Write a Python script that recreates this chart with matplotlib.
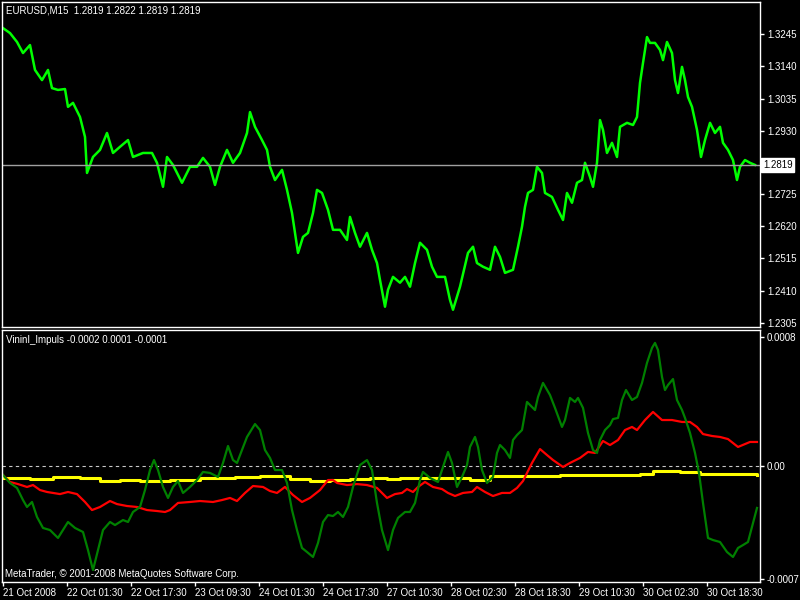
import matplotlib.pyplot as plt
import matplotlib.transforms as mtransforms

# EURUSD M15 close (bar index -> price)
price_bar = [0, 7, 14, 20, 27, 32, 39, 45, 49, 55,
             62, 65, 70, 77, 82, 84, 90, 97, 104, 110,
             117, 125, 130, 140, 149, 154, 160, 164, 170, 179,
             187, 194, 200, 207, 212, 217, 224, 230, 237, 244,
             247, 252, 259, 264, 267, 272, 279, 284, 289, 292,
             295, 300, 305, 310, 314, 319, 325, 330, 337, 344,
             347, 352, 357, 364, 369, 374, 377, 382, 385, 390,
             397, 402, 407, 412, 417, 424, 429, 434, 442, 447,
             450, 457, 465, 470, 474, 480, 487, 492, 497, 502,
             510, 515, 519, 522, 525, 530, 534, 539, 542, 549,
             555, 560, 564, 569, 574, 579, 582, 587, 590, 594,
             597, 600, 604, 609, 614, 617, 624, 630, 634, 637,
             640, 644, 647, 652, 657, 660, 664, 669, 672, 675,
             679, 682, 685, 689, 694, 698, 702, 707, 712, 717,
             720, 725, 730, 734, 737, 742, 747, 752]
price_close = [1.3264, 1.3248, 1.3219, 1.3183, 1.3209, 1.3128, 1.3095, 1.3128, 1.3069, 1.3063,
               1.3066, 1.3008, 1.3021, 1.2975, 1.2910, 1.2793, 1.2845, 1.2868, 1.2923, 1.2858,
               1.2878, 1.2900, 1.2845, 1.2858, 1.2858, 1.2826, 1.2748, 1.2845, 1.2819, 1.2761,
               1.2813, 1.2813, 1.2842, 1.2813, 1.2754, 1.2813, 1.2868, 1.2826, 1.2858, 1.2923,
               1.2991, 1.2943, 1.2900, 1.2868, 1.2813, 1.2770, 1.2803, 1.2738, 1.2663, 1.2598,
               1.2533, 1.2585, 1.2598, 1.2663, 1.2738, 1.2728, 1.2673, 1.2608, 1.2608, 1.2575,
               1.2650, 1.2598, 1.2553, 1.2598, 1.2543, 1.2500, 1.2445, 1.2358, 1.2413, 1.2455,
               1.2436, 1.2455, 1.2423, 1.2500, 1.2566, 1.2543, 1.2488, 1.2455, 1.2455, 1.2380,
               1.2348, 1.2423, 1.2533, 1.2553, 1.2500, 1.2488, 1.2478, 1.2553, 1.2520, 1.2468,
               1.2478, 1.2553, 1.2618, 1.2683, 1.2728, 1.2738, 1.2813, 1.2793, 1.2728, 1.2715,
               1.2673, 1.2640, 1.2728, 1.2696, 1.2761, 1.2770, 1.2826, 1.2780, 1.2748, 1.2826,
               1.2965, 1.2933, 1.2858, 1.2891, 1.2845, 1.2943, 1.2956, 1.2949, 1.2975, 1.3086,
               1.3151, 1.3235, 1.3216, 1.3216, 1.3193, 1.3160, 1.3219, 1.3183, 1.3095, 1.3053,
               1.3138, 1.3095, 1.3040, 1.3008, 1.2933, 1.2845, 1.2900, 1.2956, 1.2923, 1.2943,
               1.2891, 1.2868, 1.2835, 1.2770, 1.2813, 1.2835, 1.2826, 1.2819]
last_price = 1.2819
price_ticks = [1.2305, 1.2410, 1.2515, 1.2620, 1.2725, 1.2930, 1.3035, 1.3140, 1.3245]

# VininI_Impuls buffers
green_bar = [0, 7, 14, 20, 24, 29, 34, 40, 47, 55,
             60, 65, 72, 80, 85, 90, 95, 100, 107, 112,
             120, 125, 130, 137, 142, 147, 151, 155, 160, 165,
             170, 175, 180, 187, 194, 200, 207, 215, 220, 225,
             230, 234, 239, 244, 252, 257, 262, 267, 272, 279,
             284, 289, 294, 299, 304, 310, 315, 320, 325, 330,
             335, 340, 345, 350, 357, 364, 369, 374, 379, 385,
             390, 395, 402, 407, 412, 417, 420, 427, 435, 440,
             445, 449, 454, 459, 464, 467, 472, 475, 479, 484,
             490, 494, 497, 502, 507, 510, 514, 519, 524, 527,
             532, 535, 540, 547, 552, 559, 562, 567, 572, 575,
             580, 585, 590, 594, 597, 602, 607, 610, 615, 619,
             623, 629, 634, 639, 644, 649, 652, 655, 659, 662,
             665, 670, 674, 679, 682, 687, 692, 696, 700, 705,
             710, 717, 724, 730, 735, 740, 745, 750, 754]
green_val = [-0.000056, -0.000105, -0.000136, -0.000211, -0.000254, -0.000223, -0.000316, -0.000384, -0.000397, -0.000446,
             -0.000397, -0.000347, -0.000384, -0.000409, -0.000521, -0.000645, -0.000521, -0.000397, -0.000347, -0.000366,
             -0.000335, -0.000347, -0.000285, -0.000254, -0.000149, -0.000025, 0.000037, -0.000025, -0.000130, -0.000198,
             -0.000130, -0.000093, -0.000167, -0.000130, -0.000087, -0.000037, -0.000043, -0.000068, 0.000019, 0.000124,
             0.000037, 0.000019, 0.000099, 0.000180, 0.000260, 0.000223, 0.000099, 0.000050, -0.000025, -0.000025,
             -0.000105, -0.000273, -0.000397, -0.000508, -0.000533, -0.000564, -0.000477, -0.000347, -0.000304, -0.000310,
             -0.000285, -0.000316, -0.000254, -0.000130, 0.000006, 0.000037, -0.000025, -0.000229, -0.000397, -0.000521,
             -0.000397, -0.000322, -0.000285, -0.000285, -0.000229, -0.000087, -0.000037, -0.000074, -0.000099, -0.000006,
             0.000087, 0.000019, -0.000130, -0.000068, 0.000006, 0.000118, 0.000180, 0.000118, -0.000025, -0.000105,
             -0.000068, 0.000081, 0.000130, 0.000099, 0.000050, 0.000161, 0.000192, 0.000223, 0.000397, 0.000378,
             0.000347, 0.000428, 0.000515, 0.000440, 0.000360, 0.000242, 0.000285, 0.000422, 0.000397, 0.000422,
             0.000360, 0.000205, 0.000099, 0.000081, 0.000161, 0.000223, 0.000254, 0.000291, 0.000298, 0.000409,
             0.000471, 0.000409, 0.000428, 0.000515, 0.000639, 0.000732, 0.000763, 0.000719, 0.000552, 0.000471,
             0.000502, 0.000539, 0.000409, 0.000347, 0.000298, 0.000205, 0.000081, -0.000043, -0.000229, -0.000446,
             -0.000459, -0.000471, -0.000533, -0.000564, -0.000508, -0.000490, -0.000471, -0.000353, -0.000260]

red_bar = [0, 7, 15, 24, 30, 37, 44, 50, 57, 65,
           74, 82, 89, 97, 107, 114, 124, 134, 144, 154,
           162, 167, 175, 187, 197, 210, 219, 227, 234, 242,
           250, 260, 267, 274, 282, 290, 299, 307, 317, 325,
           330, 334, 344, 354, 364, 374, 384, 392, 399, 404,
           410, 415, 422, 430, 439, 445, 452, 460, 469, 474,
           482, 490, 499, 507, 514, 520, 529, 537, 544, 550,
           560, 567, 577, 585, 592, 600, 607, 615, 622, 629,
           634, 642, 650, 659, 669, 679, 687, 694, 700, 709,
           717, 725, 735, 742, 747, 754]
red_val = [-0.000056, -0.000099, -0.000112, -0.000130, -0.000118, -0.000149, -0.000161, -0.000167, -0.000174, -0.000161,
           -0.000174, -0.000223, -0.000273, -0.000254, -0.000217, -0.000236, -0.000248, -0.000254, -0.000273, -0.000279,
           -0.000285, -0.000273, -0.000229, -0.000223, -0.000217, -0.000223, -0.000211, -0.000198, -0.000217, -0.000167,
           -0.000124, -0.000130, -0.000155, -0.000167, -0.000130, -0.000180, -0.000223, -0.000198, -0.000149, -0.000087,
           -0.000087, -0.000105, -0.000118, -0.000112, -0.000118, -0.000136, -0.000198, -0.000174, -0.000167, -0.000143,
           -0.000161, -0.000130, -0.000099, -0.000130, -0.000143, -0.000167, -0.000186, -0.000167, -0.000161, -0.000130,
           -0.000161, -0.000186, -0.000167, -0.000167, -0.000136, -0.000093, 0.000019, 0.000105, 0.000068, 0.000037,
           -0.000006, 0.000019, 0.000050, 0.000087, 0.000081, 0.000155, 0.000130, 0.000161, 0.000223, 0.000242,
           0.000223, 0.000285, 0.000335, 0.000285, 0.000285, 0.000273, 0.000273, 0.000242, 0.000198, 0.000186,
           0.000180, 0.000167, 0.000118, 0.000136, 0.000149, 0.000149]

yellow_bar = [0, 27, 50, 77, 97, 117, 137, 167, 197, 232,
              257, 287, 307, 327, 347, 367, 384, 397, 427, 447,
              467, 487, 517, 557, 597, 637, 650, 677, 697, 717, 754]
yellow_val = [-0.000074, -0.000081, -0.000068, -0.000074, -0.000093, -0.000087, -0.000093, -0.000087, -0.000074, -0.000068,
              -0.000062, -0.000081, -0.000093, -0.000087, -0.000081, -0.000074, -0.000081, -0.000074, -0.000074, -0.000074,
              -0.000087, -0.000062, -0.000062, -0.000056, -0.000056, -0.000050, -0.000031, -0.000037, -0.000050, -0.000050,
              -0.000056]

time_bar = [0, 64, 128, 192, 256, 320, 384, 448, 512, 576, 640, 704]
time_labels = ['21 Oct 2008', '22 Oct 01:30', '22 Oct 17:30', '23 Oct 09:30',
               '24 Oct 01:30', '24 Oct 17:30', '27 Oct 10:30', '28 Oct 02:30',
               '28 Oct 18:30', '29 Oct 10:30', '30 Oct 02:30', '30 Oct 18:30']
ind_ticks = [-0.0007, 0.0, 0.0008]
ind_labels = ['-0.0007', '0.00', '0.0008']

plt.rcParams['font.family'] = ['Liberation Sans', 'DejaVu Sans']
FS = 7

fig = plt.figure(figsize=(8, 6), dpi=100, facecolor='black')
ax1 = fig.add_axes([2 / 800, 1 - 327 / 600, 758 / 800, 325 / 600])
ax2 = fig.add_axes([2 / 800, 1 - 582 / 600, 758 / 800, 252 / 600])

for ax in (ax1, ax2):
    ax.set_facecolor('black')
    for s in ax.spines.values():
        s.set_color('white')
        s.set_linewidth(1)
    ax.set_xlim(-1, 757)
    ax.yaxis.tick_right()
    ax.tick_params(axis='y', colors='white', labelsize=FS, length=3, width=1, pad=2)

# price panel
ax1.plot(price_bar, price_close, color='#00ff00', lw=1.8)
ax1.axhline(last_price, color='#a0a0a0', lw=1)
ax1.set_ylim(1.2292, 1.3349)
ax1.set_yticks(price_ticks)
ax1.set_yticklabels(['%.4f' % t for t in price_ticks])
ax1.set_xticks([])
trans = mtransforms.blended_transform_factory(ax1.transAxes, ax1.transData)
ax1.text(1.004, last_price, '%.4f' % last_price, transform=trans, color='black',
         fontsize=FS, va='center', ha='left',
         bbox=dict(facecolor='white', edgecolor='white', pad=1.2))
ax1.text(0.005, 0.975, 'EURUSD,M15  1.2819 1.2822 1.2819 1.2819', transform=ax1.transAxes,
         color='white', fontsize=FS, va='center', ha='left')

# indicator panel
ax2.axhline(0, color='#c8c8c8', lw=0.8, ls=(0, (3, 3)))
ax2.plot(yellow_bar, yellow_val, color='yellow', lw=2.2, drawstyle='steps-post')
ax2.plot(red_bar, red_val, color='red', lw=1.6)
ax2.plot(green_bar, green_val, color='green', lw=1.6)
ax2.set_ylim(-0.000719, 0.000843)
ax2.set_yticks(ind_ticks)
ax2.set_yticklabels(ind_labels)
ax2.set_xticks(time_bar)
ax2.set_xticklabels(time_labels, ha='left')
ax2.tick_params(axis='x', colors='white', labelsize=FS, length=3, width=1, pad=1)
ax2.text(0.005, 0.96, 'VininI_Impuls -0.0002 0.0001 -0.0001', transform=ax2.transAxes,
         color='white', fontsize=FS, va='center', ha='left')
ax2.text(0.004, 0.03, 'MetaTrader, © 2001-2008 MetaQuotes Software Corp.', transform=ax2.transAxes,
         color='white', fontsize=FS, va='center', ha='left')

fig.savefig('out.png', dpi=100, facecolor='black')
